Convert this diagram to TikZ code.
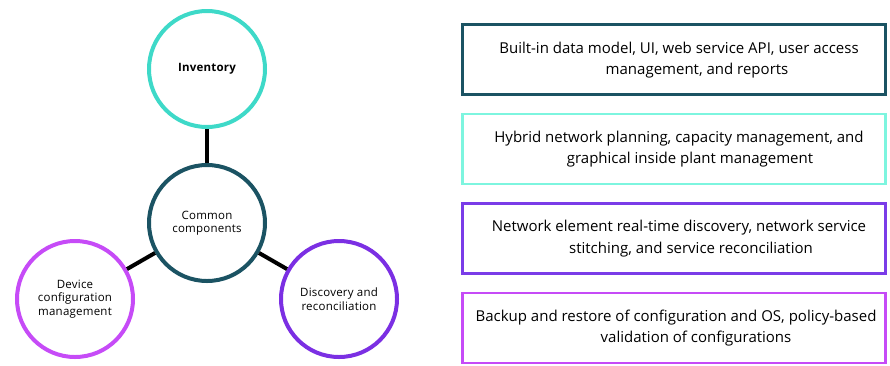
\documentclass[tikz,border=0pt]{standalone}
\usepackage{fontspec}
\setmainfont{Open Sans}
\definecolor{cinv}{HTML}{3ED9C8}
\definecolor{ccom}{HTML}{1B5363}
\definecolor{cdev}{HTML}{C64BF7}
\definecolor{cdis}{HTML}{7B2FE3}
\definecolor{cbox2}{HTML}{7DF5DF}
\definecolor{cbox3}{HTML}{7A3CE8}
\begin{document}
\begin{tikzpicture}[x=1pt,y=-1pt,
  bubble/.style={circle,draw,line width=4pt,minimum size=116pt,inner sep=0pt,align=center,text=black,font=\fontsize{11.5}{13.5}\selectfont\addfontfeature{LetterSpace=2}},
  feature/.style={draw,line width=2.5pt,minimum width=423pt,minimum height=70pt,inner sep=0pt},
  ftext/.style={align=center,text=black,font=\fontsize{15}{21.5}\selectfont},
  link/.style={line width=4pt,black}]
\useasboundingbox (0,0) rectangle (890,365);
\node[bubble,draw=cinv] (inv) at (207,69) {\bfseries Inventory};
\node[bubble,draw=ccom] (com) at (207,223) {Common\\components};
\node[bubble,draw=cdev] (dev) at (75,299) {Device\\configuration\\management};
\node[bubble,draw=cdis] (dis) at (339,299) {Discovery and\\reconciliation};
\draw[link] (inv) -- (com);
\draw[link] (com) -- (dev);
\draw[link] (com) -- (dis);
\node[feature,draw=ccom] (b1) at (674,59.5) {};
\node[feature,draw=cbox2] (b2) at (674,149) {};
\node[feature,draw=cbox3] (b3) at (674,238.5) {};
\node[feature,draw=cdev] (b4) at (674,328) {};
\node[ftext] (t1) at (679,60) {Built-in data model, UI, web service API, user access\\\hspace*{36pt}management, and reports};
\node[ftext] (t2) at (679,149) {Hybrid network planning, capacity management, and\\\hspace*{22pt}graphical inside plant management};
\node[ftext] (t3) at (679,238.5) {Network element real-time discovery, network service\\\hspace*{24pt}stitching, and service reconciliation};
\node[ftext] (t4) at (676,328) {Backup and restore of configuration and OS, policy-based\\\hspace*{40pt}validation of configurations};
\end{tikzpicture}
\end{document}
